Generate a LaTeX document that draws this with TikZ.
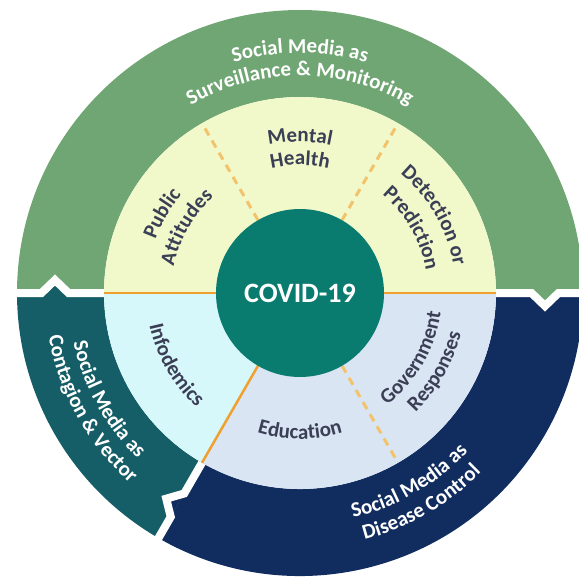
\documentclass[tikz,border=0pt]{standalone}
\usepackage{fontspec}
\setmainfont{Carlito}
\usetikzlibrary{decorations.text}
\definecolor{ogreen}{HTML}{70A673}
\definecolor{oteal}{HTML}{155E67}
\definecolor{onavy}{HTML}{112D5F}
\definecolor{iyellow}{HTML}{F1F9CB}
\definecolor{icyan}{HTML}{D7F8FB}
\definecolor{iblue}{HTML}{DAE5F3}
\definecolor{ccore}{HTML}{0A7C6F}
\definecolor{orsolid}{HTML}{EFA02E}
\definecolor{ordash}{HTML}{F2C36A}
\definecolor{labelc}{HTML}{3A3F55}
\newcommand\ofmt{\color{white}\bfseries\fontsize{21}{24}\selectfont}
\newcommand\ifmt{\color{labelc}\bfseries\fontsize{21}{24}\selectfont}
\newcommand\cwarc[4]{\path[decorate,decoration={text along path,text align=center,text={|#1|#4}}] (#2+80:#3) arc[start angle=#2+80,end angle=#2-80,radius=#3];}
\newcommand\ccwarc[4]{\path[decorate,decoration={text along path,text align=center,text={|#1|#4}}] (#2-80:#3) arc[start angle=#2-80,end angle=#2+80,radius=#3];}
\newcommand\Rin{196}
\newcommand\Rout{283}
\newcommand\Rcore{84}
\newcommand\Rmid{245}
\newcommand\ChevW{13.5}
\newcommand\ChevH{13}
\tikzset{
  divider/.style={white,line width=8pt,line join=miter},
  solidsep/.style={orsolid,line width=2.5pt},
  dashsep/.style={ordash,line width=3pt,dash pattern=on 8pt off 6pt},
  core/.style={circle,fill=ccore,minimum size=168pt,inner sep=0pt,text=white,font=\bfseries\fontsize{28}{30}\selectfont}
}
\begin{document}
\begin{tikzpicture}[x=1pt,y=1pt]
\useasboundingbox (-300,-286) rectangle (279,293);
\clip (-300,-286) rectangle (279,293);
% outer ring segments
\fill[ogreen] (0:\Rin) -- (0:\Rout) arc[start angle=0,end angle=180,radius=\Rout] -- (180:\Rin) arc[start angle=180,end angle=0,radius=\Rin] -- cycle;
\fill[oteal] (180:\Rin) -- (180:\Rout) arc[start angle=180,end angle=240,radius=\Rout] -- (240:\Rin) arc[start angle=240,end angle=180,radius=\Rin] -- cycle;
\fill[onavy] (240:\Rin) -- (240:\Rout) arc[start angle=240,end angle=360,radius=\Rout] -- (360:\Rin) arc[start angle=360,end angle=240,radius=\Rin] -- cycle;
% chevron joints
\foreach \ang/\col in {0/ogreen,180/oteal,240/onavy}{
  \begin{scope}[rotate=\ang]
    \fill[\col] (\Rmid-\ChevW,0) -- (\Rmid,-\ChevH) -- (\Rmid+\ChevW,0) -- cycle;
    \draw[divider] (\Rin,0) -- (\Rmid-\ChevW,0) -- (\Rmid,-\ChevH) -- (\Rmid+\ChevW,0) -- (\Rout+12,0);
  \end{scope}
}
% inner ring
\fill[iyellow] (0:\Rin) arc[start angle=0,end angle=180,radius=\Rin] -- cycle;
\fill[icyan] (0,0) -- (180:\Rin) arc[start angle=180,end angle=240,radius=\Rin] -- cycle;
\fill[iblue] (0,0) -- (240:\Rin) arc[start angle=240,end angle=360,radius=\Rin] -- cycle;
\draw[solidsep] (180:\Rin) -- (0:\Rin);
\draw[solidsep] (0,0) -- (240:\Rin);
\foreach \ang in {60,120,300}{\draw[dashsep] (\ang:\Rcore) -- (\ang:\Rin-2);}
% core
\node[core] (covid) at (0,0) {COVID-19};
% outer labels
\cwarc{\ofmt}{90}{240}{Social Media as}
\cwarc{\ofmt}{90}{217}{Surveillance {\&} Monitoring}
\ccwarc{\ofmt}{209}{232}{Social Media as}
\ccwarc{\ofmt}{209}{255}{Contagion {\&} Vector}
\ccwarc{\ofmt}{300}{231}{Social Media as}
\ccwarc{\ofmt}{300}{255}{Disease Control}
% inner labels
\cwarc{\ifmt}{150}{154}{Public}
\cwarc{\ifmt}{150}{129}{Attitudes}
\cwarc{\ifmt}{90}{151}{Mental}
\cwarc{\ifmt}{90}{128}{Health}
\cwarc{\ifmt}{30}{156}{Detection or}
\cwarc{\ifmt}{30}{128}{Prediction}
\ccwarc{\ifmt}{210}{154}{Infodemics}
\ccwarc{\ifmt}{270}{146}{Education}
\ccwarc{\ifmt}{330}{142}{Government}
\ccwarc{\ifmt}{330}{166}{Responses}
\end{tikzpicture}
\end{document}
